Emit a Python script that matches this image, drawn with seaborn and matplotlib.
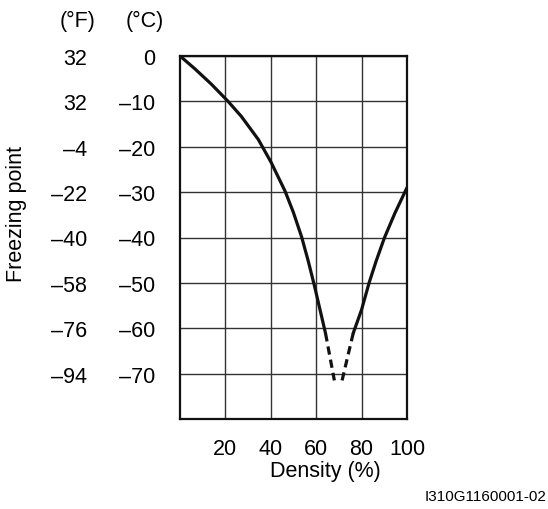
import matplotlib
matplotlib.use("Agg")
import matplotlib.pyplot as plt
import matplotlib.transforms as mtransforms
import seaborn as sns

# curva do ponto de congelação
left_x = [0, 6.5, 13.8, 21, 27, 34.5, 40.1, 43.3, 46.3, 49.9, 53.6, 56.5, 59.3, 64.1]
left_y = [0, -2.8, -6.2, -9.9, -13.3, -18.4, -23.4, -26.7, -29.8, -34.4, -39.9, -45.2, -50.8, -61.1]
left_dash_x = [64.1, 68.0]
left_dash_y = [-61.1, -71.5]
right_dash_x = [71.4, 76.3]
right_dash_y = [-71.5, -61.1]
right_x = [76.3, 80, 83.3, 86.4, 90.1, 94.7, 100]
right_y = [-61.1, -55.9, -50, -45.2, -40, -34.6, -29]

x_ticks = [20, 40, 60, 80, 100]
c_ticks = [0, -10, -20, -30, -40, -50, -60, -70]
c_labels = ["0", "–10", "–20", "–30", "–40", "–50", "–60", "–70"]
f_labels = ["32", "32", "–4", "–22", "–40", "–58", "–76", "–94"]

sns.set_style("white")
plt.rcParams["font.family"] = ["Liberation Sans", "DejaVu Sans"]
plt.rcParams["text.color"] = "black"
plt.rcParams["xtick.color"] = "black"
plt.rcParams["ytick.color"] = "black"
FS = 15.5

W, H = 548, 510
fig = plt.figure(figsize=(W / 100, H / 100), dpi=100)
ax = fig.add_axes([180 / W, 1 - 420 / H, 227 / W, 363 / H])

ax.set_xlim(0, 100)
ax.set_ylim(-80, 0)
ax.set_xticks(x_ticks)
ax.set_xticklabels([str(v) for v in x_ticks], fontsize=FS)
ax.set_yticks(c_ticks)
ax.set_yticklabels(c_labels, fontsize=FS)
ax.tick_params(length=0)
ax.tick_params(axis="x", pad=13.5)
ax.tick_params(axis="y", pad=18)
ax.grid(True, color="#333333", linewidth=1.0)
ax.set_axisbelow(True)
for s in ax.spines.values():
    s.set_visible(True)
    s.set_color("#111111")
    s.set_linewidth(1.6)

kw = dict(color="#111111", linewidth=2.3, ax=ax, sort=False, estimator=None)
sns.lineplot(x=left_x, y=left_y, **kw).lines[-1].set_solid_joinstyle("round")
sns.lineplot(x=right_x, y=right_y, **kw).lines[-1].set_solid_joinstyle("round")
for xs, ys in [(left_dash_x, left_dash_y), (right_dash_x, right_dash_y)]:
    ln = sns.lineplot(x=xs, y=ys, **kw).lines[-1]
    ln.set_linestyle((0, (2.6, 1.6)))
    ln.set_dash_capstyle("butt")

# coluna Fahrenheit
tr = mtransforms.blended_transform_factory(fig.transFigure, ax.transData)
for yv, lab in zip(c_ticks, f_labels):
    ax.text(87 / W, yv, lab, transform=tr, ha="right", va="center_baseline", fontsize=FS)

fig.text(78 / W, 1 - 21 / H, "(°F)", ha="center", va="center", fontsize=FS)
fig.text(145 / W, 1 - 21 / H, "(°C)", ha="center", va="center", fontsize=FS)
fig.text(17 / W, 1 - 214 / H, "Freezing point", rotation=90, ha="center", va="center", fontsize=FS)
fig.text(325 / W, 1 - 472 / H, "Density (%)", ha="center", va="center", fontsize=FS)
fig.text(546 / W, 1 - 497 / H, "I310G1160001-02", ha="right", va="center", fontsize=11)

fig.savefig("out.png", dpi=100)
